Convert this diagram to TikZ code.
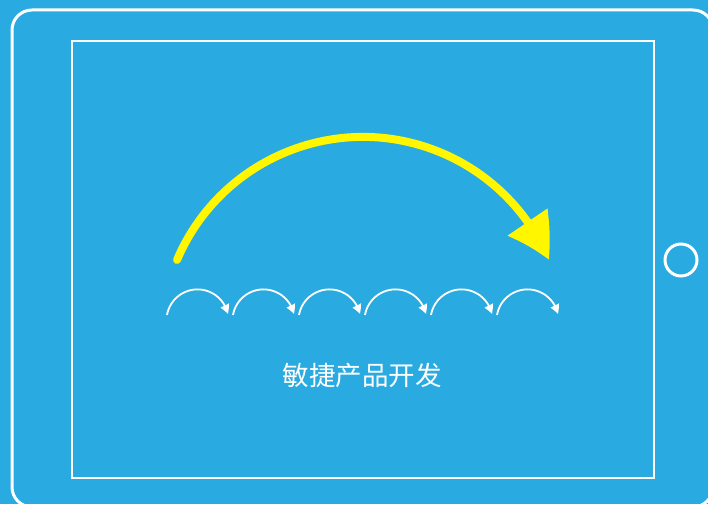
\documentclass[tikz,border=0pt]{standalone}
\usepackage{fontspec}
\newfontfamily\cjk{Noto Sans CJK SC}
\usetikzlibrary{arrows.meta,bending}
\definecolor{padblue}{RGB}{41,170,224}
\definecolor{bigyellow}{RGB}{255,246,0}
\tikzset{every path/.style={white}, frame/.style={draw=white,line width=2.2pt}, hop/.style={white,line width=1.8pt,-{Triangle[length=9pt,width=9pt,bend]}}}

\begin{document}
\begin{tikzpicture}[x=1pt,y=1pt]
     \fill[padblue] (0,0) rectangle (708,504);
     \useasboundingbox (0,0) rectangle (708,504);
     % tablet body
     \draw[frame,line width=3pt,rounded corners=20pt] (12,494) rectangle (713,-3);
     \draw[frame] (72,463) rectangle (654,26);
     \draw[white,line width=3pt] (681,244) circle (16);
     % big step
     \coordinate (bigstart) at (177,244);
     \draw[bigyellow,line width=8pt,line cap=round,-{Triangle[length=44pt,width=46pt,bend]}] (bigstart) arc (157:23:202);
     % small steps
     \foreach \i in {0,...,5}{
      \coordinate (hop-\i) at ({167+66*\i},189);
      \draw[hop] (hop-\i) arc (170:12:31);
     }
     \node[text=white,font=\cjk\fontsize{26.5}{30}\selectfont] (title) at (362,129) {敏捷产品开发};
    \end{tikzpicture}
\end{document}
